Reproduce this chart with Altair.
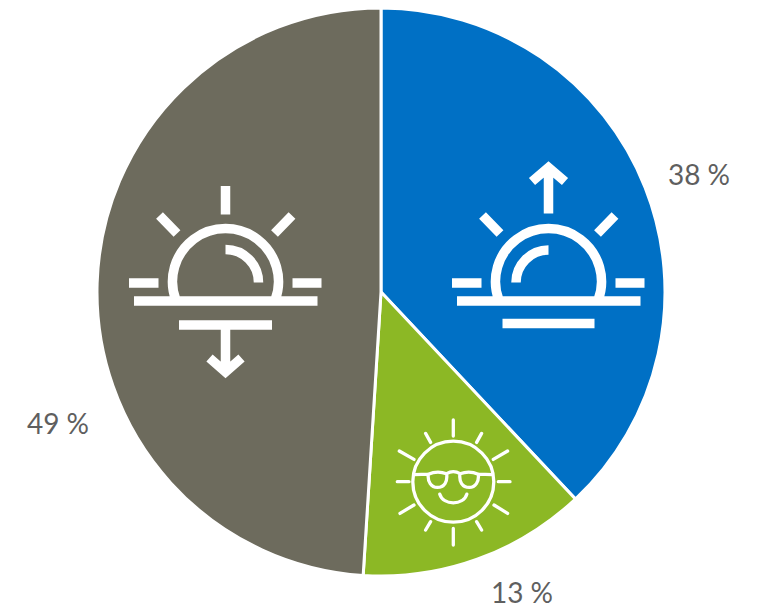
import altair as alt
import pandas as pd

# Share of each category, clockwise from twelve o'clock
categories = ["Sunrise", "Midday", "Sunset"]
shares = [38, 13, 49]
colors = ["#0070C5", "#8CB825", "#6D6B5D"]

CENTER = (381, 292)
RADIUS = 284

table = pd.DataFrame({"category": categories, "share": shares, "rank": [0, 1, 2]})

pie = (
    alt.Chart(table)
    .mark_arc(outerRadius=RADIUS, stroke="white", strokeWidth=3)
    .encode(
        x=alt.value(CENTER[0]),
        y=alt.value(CENTER[1]),
        theta=alt.Theta("share:Q", stack=True),
        order=alt.Order("rank:Q"),
        color=alt.Color(
            "category:N",
            scale=alt.Scale(domain=categories, range=colors),
            legend=None,
        ),
    )
)

# Icon outlines, drawn around the centre of each sun
DOME = (
    "M-49.5 19A53 53 0 1 1 49.5 19"
    "M-91.5 19.5H92"
    "M-96.5 1.5H-67M67 1.5H96"
    "M-66 -66L-48.5 -48M66.5 -66L49 -48"
)
SUNRISE_ICON = (
    DOME
    + "M-32.5 1A32.5 32.5 0 0 1 0 -31.5"
    + "M-46 42H46"
    + "M0 -68V-114"
    + "M-16.5 -100L0 -114L16.5 -100"
)
SUNSET_ICON = (
    DOME
    + "M0 -32A33 33 0 0 1 33 1"
    + "M0 -95.5V-67"
    + "M-46.5 43.5H46.5"
    + "M0 43.5V88"
    + "M-16 76.5L0 90.5L16 76.5"
)
SHADES_ICON = (
    "M-40.5 0A40.5 40.5 0 1 1 40.5 0A40.5 40.5 0 1 1 -40.5 0"
    "M0 -61.7V-45.7M0 46.7V63.3"
    "M-27.7 -48.3L-22.7 -39.3M28.3 -48.3L23.3 -39.3"
    "M-54 -30.7L-39.3 -22.3M54.3 -30.7L40 -22.3"
    "M-56 0H-44.3M45 0H56.7"
    "M-53.3 31.7L-39.3 23.3M54.3 31.7L40.7 23.3"
    "M-27.7 48.3L-22.7 40M28.3 48.3L23.3 40"
    "M-39 -7L-25 -7.5Q-16 -11.5 -6.7 -8C-5.5 0 -9 5.7 -16 5.7C-22 5.7 -26 0 -25 -7.5"
    "M39 -7L25 -7.5Q16 -11.5 6.7 -8C5.5 0 9 5.7 16 5.7C22 5.7 26 0 25 -7.5"
    "M-6.7 -8Q0 -12 6.7 -8"
    "M-13.5 12.5C-10 24 10 24 13.5 12.5"
)


def icon(path, x, y, width, cap="butt"):
    return (
        alt.Chart(alt.Data(values=[{}]))
        .mark_point(
            shape=path,
            size=4,  # the symbol path is drawn at half of sqrt(size)
            filled=False,
            opacity=1,
            stroke="white",
            strokeWidth=width,
            strokeCap=cap,
            strokeJoin="miter",
        )
        .encode(x=alt.value(x), y=alt.value(y))
    )


icons = [
    icon(SUNRISE_ICON, 548.5, 281.5, 9.5),
    icon(SUNSET_ICON, 225.5, 281.5, 9.5),
    icon(SHADES_ICON, 453.3, 481.7, 3.3, cap="round"),
]

# Percentage captions outside the pie
label_anchor = {"Sunrise": (699, 177), "Midday": (522, 595), "Sunset": (58, 426)}
captions = []
for name, share in zip(categories, shares):
    lx, ly = label_anchor[name]
    captions.append(
        alt.Chart(alt.Data(values=[{"caption": f"{share} %"}]))
        .mark_text(font="Lato", fontSize=28, color="#5F5F5F", align="center", baseline="middle")
        .encode(x=alt.value(lx), y=alt.value(ly), text="caption:N")
    )

chart = (
    alt.layer(pie, *icons, *captions)
    .properties(width=758, height=608, padding=0, autosize=alt.AutoSizeParams(type="none"))
    .configure_view(stroke=None)
)

chart.save("out.html", embed_options={"renderer": "svg", "actions": False})
